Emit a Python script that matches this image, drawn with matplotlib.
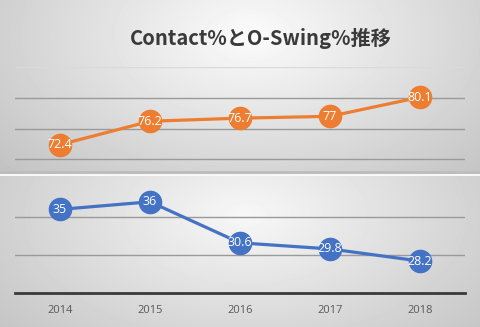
import numpy as np
import matplotlib
matplotlib.use('Agg')
import matplotlib.pyplot as plt

years = ['2014', '2015', '2016', '2017', '2018']
contact = [72.4, 76.2, 76.7, 77, 80.1]
oswing = [35, 36, 30.6, 29.8, 28.2]
contact_labels = ['72.4', '76.2', '76.7', '77', '80.1']
oswing_labels = ['35', '36', '30.6', '29.8', '28.2']

W, H = 480, 327
fig = plt.figure(figsize=(W / 100, H / 100), dpi=100)

# background: two stacked panels, each with a radial grey gradient
yy, xx = np.mgrid[0:H, 0:W]
bg = np.zeros((H, W))
top = yy < 173
d_top = np.sqrt(((xx - 250) / 330.0) ** 2 + ((yy - 35) / 200.0) ** 2)
d_bot = np.sqrt(((xx - 245) / 320.0) ** 2 + ((yy - 215) / 180.0) ** 2)
bg[top] = (0.985 - 0.22 * np.clip(d_top, 0, 1.2))[top]
bg[~top] = (0.97 - 0.20 * np.clip(d_bot, 0, 1.2))[~top]
bg[171:174, :] = 0.74
bg[174:176, :] = 0.97
ax_bg = fig.add_axes([0, 0, 1, 1])
ax_bg.imshow(bg, cmap='gray', vmin=0, vmax=1, aspect='auto', interpolation='bilinear')
ax_bg.axis('off')

fig.text(261 / W, 1 - 38 / H, 'Contact%とO-Swing%推移', ha='center', va='center',
         fontsize=14.5, fontweight='bold', color='#3a3a3a',
         family=['Noto Sans CJK JP', 'DejaVu Sans'])

x = np.arange(len(years))
left, width = 15 / W, 450 / W

def style(ax):
    ax.set_facecolor('none')
    ax.set_xlim(-0.5, len(years) - 0.5)
    for s in ax.spines.values():
        s.set_visible(False)
    ax.grid(axis='y', color='#9a9a9a', linewidth=1)
    ax.set_axisbelow(True)
    ax.tick_params(left=False, labelleft=False, bottom=False)

# top panel: Contact%
ax1 = fig.add_axes([left, 1 - 161 / H, width, (161 - 67) / H])
style(ax1)
ax1.set_ylim(69.75, 85)
ax1.set_yticks([70, 75, 80, 85])
ax1.get_ygridlines()[-1].set_color('#dadada')
ax1.set_xticks([])
ax1.plot(x, contact, color='#ED7D31', linewidth=2.3, marker='o', markersize=16,
         markerfacecolor='#ED7D31', markeredgecolor='#ED7D31', clip_on=False)
for xi, v, t in zip(x, contact, contact_labels):
    ax1.text(xi, v, t, ha='center', va='center', color='white', fontsize=9,
             family='Open Sans', zorder=5)

# bottom panel: O-Swing%
ax2 = fig.add_axes([left, 1 - 293 / H, width, (293 - 175) / H])
style(ax2)
ax2.set_ylim(24, 24 + 118 / 7.6)
ax2.set_yticks([24, 29, 34])
ax2.get_ygridlines()[0].set_visible(False)
ax2.spines['bottom'].set_visible(True)
ax2.spines['bottom'].set_color('#3a3a3a')
ax2.spines['bottom'].set_linewidth(2)
ax2.set_xticks(x)
ax2.set_xticklabels(years, fontsize=8, color='#595959', family='Open Sans')
ax2.tick_params(axis='x', pad=5)
ax2.plot(x, oswing, color='#4472C4', linewidth=2.3, marker='o', markersize=16,
         markerfacecolor='#4472C4', markeredgecolor='#4472C4', clip_on=False)
for xi, v, t in zip(x, oswing, oswing_labels):
    ax2.text(xi, v, t, ha='center', va='center', color='white', fontsize=9,
             family='Open Sans', zorder=5)

fig.savefig('out.png', dpi=100)
